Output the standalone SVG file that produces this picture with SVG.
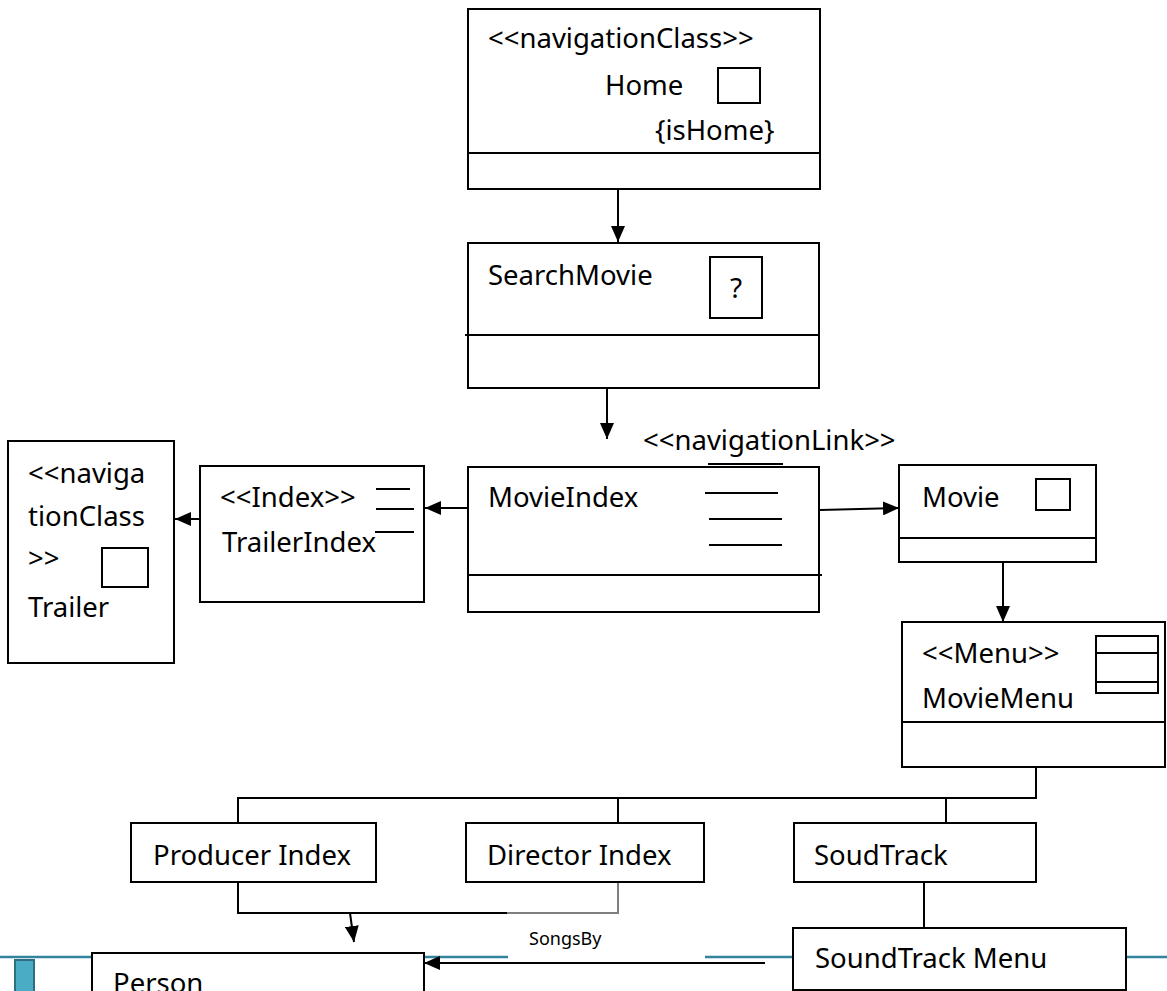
<svg xmlns="http://www.w3.org/2000/svg" width="1167" height="991" viewBox="0 0 1167 991">
<style>
.b{fill:#fff;stroke:#000;stroke-width:2}
.ln{fill:none;stroke:#000;stroke-width:2}
.t{font-family:"Noto Sans","Open Sans",sans-serif;font-size:27.5px;fill:#000}
.s{font-family:"Noto Sans","Open Sans",sans-serif;font-size:18px;fill:#000}
.teal{stroke:#31849B;stroke-width:2.5;fill:none}
</style>
<defs>
<marker id="ah" markerWidth="16" markerHeight="14" refX="16" refY="7" orient="auto" markerUnits="userSpaceOnUse">
<path d="M0,0 L16,7 L0,14 z" fill="#000"/>
</marker>
</defs>
<rect width="1167" height="991" fill="#fff"/>

<g id="page-artifacts">
<line class="teal" x1="0" y1="957" x2="92" y2="957"/>
<line class="teal" x1="425" y1="957" x2="508" y2="957"/>
<line class="teal" x1="705" y1="957" x2="793" y2="957"/>
<line class="teal" x1="1126" y1="957" x2="1167" y2="957"/>
<rect x="15" y="960" width="19" height="40" fill="#4BACC6" stroke="#2E6E85" stroke-width="2"/>
</g>

<g id="connectors">
<line class="ln" x1="618" y1="189" x2="618" y2="242" marker-end="url(#ah)"/>
<line class="ln" x1="607" y1="388" x2="607" y2="439" marker-end="url(#ah)"/>
<line class="ln" x1="470" y1="508" x2="425" y2="508" marker-end="url(#ah)"/>
<line class="ln" x1="200" y1="519" x2="175" y2="519" marker-end="url(#ah)"/>
<line class="ln" x1="820" y1="510" x2="899" y2="508" marker-end="url(#ah)"/>
<line class="ln" x1="1003" y1="562" x2="1003" y2="622" marker-end="url(#ah)"/>
<polyline class="ln" points="1036,767 1036,798 238,798 238,823"/>
<line class="ln" x1="618" y1="798" x2="618" y2="823"/>
<line class="ln" x1="946" y1="798" x2="946" y2="823"/>
<line class="ln" x1="924" y1="882" x2="924" y2="928"/>
<polyline class="ln" points="238,882 238,913 507,913"/>
<polyline points="507,913 618,913 618,882" fill="none" stroke="#7f7f7f" stroke-width="2"/>
<line class="ln" x1="350" y1="913" x2="354" y2="942" marker-end="url(#ah)"/>
<line class="ln" x1="765" y1="963" x2="424" y2="963" marker-end="url(#ah)"/>
<text class="s" x="529" y="945">SongsBy</text>
<text class="t" x="643" y="450">&lt;&lt;navigationLink&gt;&gt;</text>
<line class="ln" x1="708" y1="464" x2="783" y2="464"/>
</g>

<g id="home">
<rect class="b" x="468" y="9" width="352" height="180"/>
<line class="ln" x1="468" y1="153" x2="820" y2="153"/>
<text class="t" x="488" y="48">&lt;&lt;navigationClass&gt;&gt;</text>
<text class="t" x="605" y="95">Home</text>
<rect class="b" x="718" y="68" width="42" height="35"/>
<text class="t" x="655" y="140">{isHome}</text>
</g>

<g id="searchmovie">
<rect class="b" x="468" y="243" width="351" height="145"/>
<line class="ln" x1="465" y1="335" x2="819" y2="335"/>
<text class="t" x="488" y="285">SearchMovie</text>
<rect class="b" x="710" y="257" width="52" height="61"/>
<text class="t" x="730" y="298" style="font-size:28px">?</text>
</g>

<g id="movieindex">
<rect class="b" x="468" y="467" width="351" height="145"/>
<line class="ln" x1="468" y1="575" x2="822" y2="575"/>
<text class="t" x="488" y="507">MovieIndex</text>
<line class="ln" x1="705" y1="493" x2="778" y2="493"/>
<line class="ln" x1="709" y1="519" x2="782" y2="519"/>
<line class="ln" x1="709" y1="545" x2="782" y2="545"/>
</g>

<g id="trailerindex">
<rect class="b" x="200" y="466" width="224" height="136"/>
<text class="t" x="220" y="507">&lt;&lt;Index&gt;&gt;</text>
<text class="t" x="222" y="552">TrailerIndex</text>
<line class="ln" x1="376" y1="489" x2="410" y2="489"/>
<line class="ln" x1="376" y1="509" x2="414" y2="509"/>
<line class="ln" x1="375" y1="532" x2="414" y2="532"/>
</g>

<g id="trailer">
<rect class="b" x="8" y="441" width="166" height="222"/>
<text class="t" x="28" y="483">&lt;&lt;naviga</text>
<text class="t" x="28" y="526">tionClass</text>
<text class="t" x="28" y="568">&gt;&gt;</text>
<text class="t" x="28" y="617">Trailer</text>
<rect class="b" x="102" y="548" width="46" height="39"/>
</g>

<g id="movie">
<rect class="b" x="899" y="465" width="197" height="97"/>
<line class="ln" x1="899" y1="538" x2="1096" y2="538"/>
<text class="t" x="922" y="507">Movie</text>
<rect class="b" x="1036" y="479" width="34" height="31"/>
</g>

<g id="moviemenu">
<rect class="b" x="902" y="622" width="263" height="145"/>
<line class="ln" x1="902" y1="722" x2="1165" y2="722"/>
<text class="t" x="922" y="663">&lt;&lt;Menu&gt;&gt;</text>
<text class="t" x="922" y="708">MovieMenu</text>
<rect class="b" x="1096" y="636" width="62" height="57"/>
<line class="ln" x1="1096" y1="653" x2="1158" y2="653"/>
<line class="ln" x1="1096" y1="682" x2="1158" y2="682"/>
</g>

<g id="producerindex">
<rect class="b" x="131" y="823" width="245" height="59"/>
<text class="t" x="153" y="865">Producer Index</text>
</g>

<g id="directorindex">
<rect class="b" x="466" y="823" width="238" height="59"/>
<text class="t" x="487" y="865">Director Index</text>
</g>

<g id="soudtrack">
<rect class="b" x="794" y="823" width="242" height="59"/>
<text class="t" x="814" y="865">SoudTrack</text>
</g>

<g id="soundtrackmenu">
<rect class="b" x="793" y="928" width="333" height="62"/>
<text class="t" x="815" y="968">SoundTrack Menu</text>
</g>

<g id="person">
<rect class="b" x="92" y="953" width="332" height="60"/>
<text class="t" x="113" y="993">Person</text>
</g>
</svg>
